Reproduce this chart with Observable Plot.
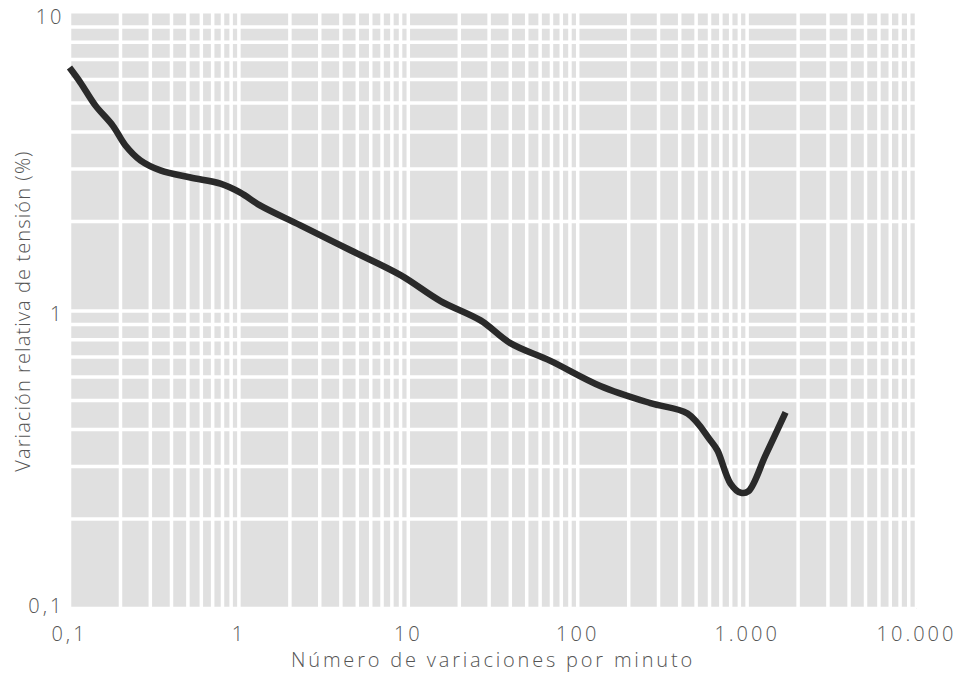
<!DOCTYPE html>
<html>
<head>
<meta charset="utf-8">
<script src="https://cdn.jsdelivr.net/npm/d3@7"></script>
<script src="https://cdn.jsdelivr.net/npm/@observablehq/plot@0.6"></script>
<style>
  body { margin: 0; background: #fff; }
  #chart { width: 963px; height: 673px; }
  svg text { font-family: "Open Sans", "DejaVu Sans", sans-serif; font-weight: 300; }
  g[aria-label="x-axis tick label"] text, g[aria-label="y-axis tick label"] text { letter-spacing: 3px; }
  g[aria-label="x-axis label"] text { letter-spacing: 2.8px; }
  g[aria-label="y-axis label"] text { letter-spacing: 1.1px; }
</style>
</head>
<body>
<div id="chart"></div>
<script>
// Curve
const variaciones = [0.1, 0.116, 0.142, 0.18, 0.214, 0.262, 0.344, 0.518, 0.778, 1.02, 1.34, 2.31, 4.56, 9.0, 15.5, 26.7, 40, 69, 136, 269, 445, 608, 668, 798, 915, 1019, 1284, 1687];
const tension     = [6.58, 5.86, 4.91, 4.2, 3.6, 3.21, 2.97, 2.81, 2.68, 2.5, 2.26, 1.94, 1.6, 1.32, 1.08, 0.93, 0.78, 0.68, 0.56, 0.49, 0.452, 0.367, 0.34, 0.263, 0.245, 0.248, 0.327, 0.456];

const xTicks = [0.1, 1, 10, 100, 1000, 10000];
const xTickLabels = ["0,1", "1", "10", "100", "1.000", "10.000"];
const yTicks = [0.1, 1, 10];
const yTickLabels = ["0,1", "1", "10"];
const gridMultipliers = [1, 2, 3, 4, 5, 6, 7, 8, 9];

const xGrid = xTicks.slice(0, -1).flatMap(d => gridMultipliers.map(k => k * d)).concat([10000]);
const yGrid = yTicks.slice(0, -1).flatMap(d => gridMultipliers.map(k => k * d));

const data = variaciones.map((v, i) => ({x: v, y: tension[i]}));
const yFormat = d => yTickLabels[yTicks.indexOf(d)];

const chart = Plot.plot({
  width: 963,
  height: 673,
  marginLeft: 69,
  marginRight: 47,
  marginTop: 13,
  marginBottom: 65,
  style: {fontSize: "20px", color: "#555", background: "#fff"},
  x: {type: "log", domain: [0.1, 10000]},
  y: {type: "log", domain: [0.1, 10]},
  marks: [
    Plot.frame({fill: "#e0e0e0", stroke: null}),
    Plot.ruleX(xGrid, {stroke: "#fff", strokeWidth: 3.5}),
    Plot.ruleY(yGrid, {stroke: "#fff", strokeWidth: 3.5}),
    Plot.axisX({
      ticks: xTicks,
      tickFormat: d => xTickLabels[xTicks.indexOf(d)],
      tickSize: 0,
      tickPadding: 18,
      fill: "#555",
      label: "Número de variaciones por minuto",
      labelAnchor: "center",
      labelArrow: "none",
      labelOffset: 58
    }),
    Plot.axisY({
      ticks: yTicks.slice(1),
      tickFormat: yFormat,
      tickSize: 0,
      tickPadding: 5,
      dy: 4,
      fill: "#555",
      label: "Variación relativa de tensión (%)",
      labelAnchor: "center",
      labelArrow: "none",
      labelOffset: 54
    }),
    Plot.axisY({
      ticks: yTicks.slice(0, 1),
      tickFormat: yFormat,
      tickSize: 0,
      tickPadding: 5,
      dy: -2,
      fill: "#555",
      label: null
    }),
    Plot.line(data, {x: "x", y: "y", stroke: "#2a2a2a", strokeWidth: 6.5, curve: "catmull-rom", strokeLinecap: "butt"})
  ]
});
document.getElementById("chart").appendChild(chart);
</script>
</body>
</html>
